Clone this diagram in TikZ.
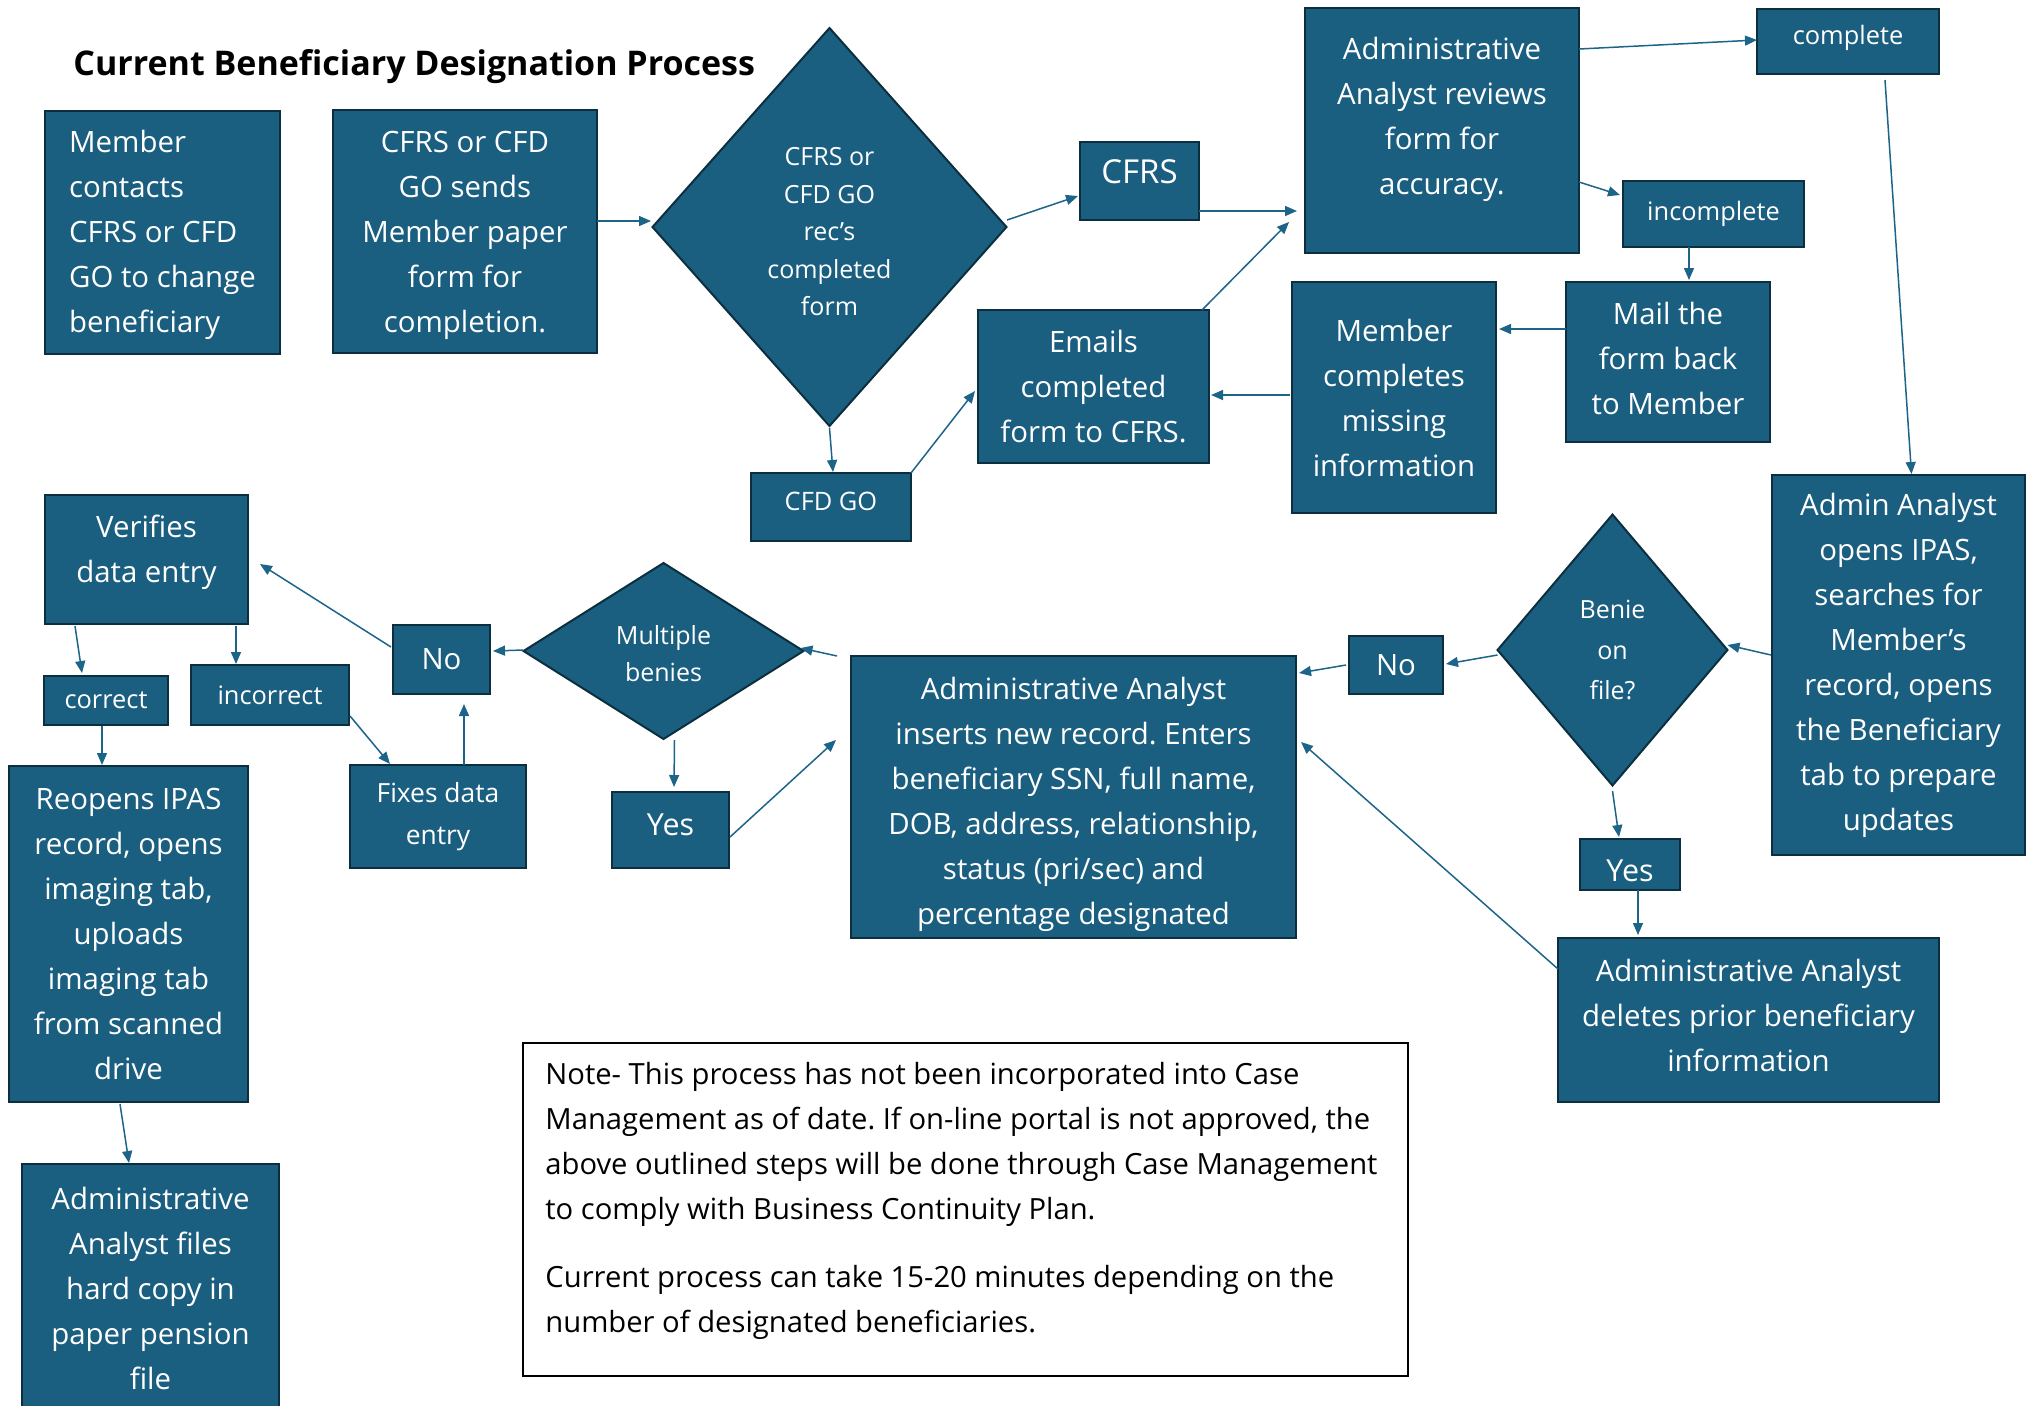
\documentclass[tikz,border=0pt]{standalone}
\usepackage{fontspec}
\setmainfont{Open Sans}
\usetikzlibrary{shapes.geometric,arrows.meta}
\definecolor{boxfill}{HTML}{1A5E80}
\definecolor{boxline}{HTML}{0C2F40}
\definecolor{arrcol}{HTML}{1D6489}
\frenchspacing
\begin{document}
\begin{tikzpicture}[x=0.5pt,y=-0.5pt,
  box/.style={draw=boxline, fill=boxfill, line width=1pt, text=white, align=center,
    inner sep=0pt, outer sep=0pt, anchor=north west, font=\fontsize{14.7}{22.5}\selectfont},
  sbox/.style={box, font=\fontsize{12.7}{18.75}\selectfont},
  ybox/.style={box, font=\fontsize{15.2}{22.5}\selectfont},
  dia/.style={diamond, draw=boxline, fill=boxfill, line width=1pt, text=white, align=center,
    inner sep=0pt, outer sep=0pt, font=\fontsize{12.5}{18.75}\selectfont},
  arr/.style={draw=arrcol, line width=0.75pt, -{Triangle[length=6pt,width=5pt]}},
]
\useasboundingbox (0,0) rectangle (2026,1405);

\node[anchor=west, inner sep=0pt, font=\bfseries\fontsize{17}{20}\selectfont] (title) at (73,67) {Current Beneficiary Designation Process};

% top row
\node[box, minimum width=117.5pt, minimum height=121.5pt, align=left] (member) at (45,111) {\mbox{}\\[-9.4pt]Member\\contacts\\CFRS or CFD\\GO to change\\beneficiary};
\node[box, minimum width=132pt, minimum height=121.5pt] (sends) at (333,110) {\mbox{}\\[-8pt]CFRS or CFD\\GO sends\\Member paper\\form for\\completion.};
\node[dia, minimum width=177pt, minimum height=199pt] (d1) at (829.5,227) {\mbox{}\\[-4.75pt]CFRS or\\CFD GO\\rec’s\\completed\\form};
\node[box, minimum width=59.5pt, minimum height=39pt, font=\fontsize{16.5}{22.5}\selectfont] (cfrs) at (1080,142) {CFRS\\[-13.5pt]\mbox{}};
\node[box, minimum width=137pt, minimum height=122.5pt] (review) at (1305,8) {Administrative\\Analyst reviews\\form for\\accuracy.\\[-8pt]\mbox{}};
\node[sbox, minimum width=91pt, minimum height=32.5pt] (complete) at (1757,9) {complete\\[-12.5pt]\mbox{}};
\node[sbox, minimum width=90.5pt, minimum height=33pt] (incomplete) at (1623,181) {incomplete};
\node[box, minimum width=102pt, minimum height=80pt] (mail) at (1566,282) {Mail the\\form back\\to Member\\[-18.5pt]\mbox{}};
\node[box, minimum width=102pt, minimum height=115.5pt] (memcomp) at (1292,282) {Member\\completes\\missing\\information};
\node[box, minimum width=115.5pt, minimum height=76.5pt] (emails) at (978,310) {Emails\\completed\\form to CFRS.};
\node[sbox, minimum width=80pt, minimum height=34pt] (cfdgo) at (751,473) {CFD GO\\[-13pt]\mbox{}};

% right column
\node[box, minimum width=126.5pt, minimum height=190pt] (opens) at (1772,475) {Admin Analyst\\opens IPAS,\\searches for\\Member’s\\record, opens\\the Beneficiary\\tab to prepare\\updates};
\node[dia, minimum width=115pt, minimum height=135.5pt, font=\fontsize{12.5}{20.25}\selectfont] (benie) at (1612.5,650) {Benie\\on\\file?};
\node[box, minimum width=47pt, minimum height=29pt] (noR) at (1349,636) {No};
\node[ybox, minimum width=50pt, minimum height=25.5pt] (yesR) at (1580,839) {\mbox{}\\[-5.5pt]Yes};
\node[box, minimum width=190.5pt, minimum height=82pt] (deletes) at (1558,938) {Administrative Analyst\\deletes prior beneficiary\\information\\[-17.5pt]\mbox{}};
\node[box, minimum width=222.5pt, minimum height=141pt] (inserts) at (851,656) {\mbox{}\\[-4.3pt]Administrative Analyst\\inserts new record. Enters\\beneficiary SSN, full name,\\DOB, address, relationship,\\status (pri/sec) and\\percentage designated};

% middle / left
\node[dia, minimum width=140pt, minimum height=88pt, font=\fontsize{12.5}{18.5}\selectfont] (multi) at (663.5,651) {\mbox{}\\[-6pt]Multiple\\benies};
\node[box, minimum width=48.5pt, minimum height=34.5pt] (noL) at (393,625) {No};
\node[ybox, minimum width=58.5pt, minimum height=38pt] (yesL) at (612,792) {Yes\\[-17.5pt]\mbox{}};
\node[box, minimum width=101.5pt, minimum height=64.5pt] (verifies) at (45,495) {Verifies\\data entry\\[-12pt]\mbox{}};
\node[sbox, minimum width=62pt, minimum height=24.5pt] (correct) at (44,676) {correct};
\node[sbox, minimum width=79pt, minimum height=30pt] (incorrect) at (191,665) {incorrect};
\node[box, minimum width=88pt, minimum height=51.5pt, font=\fontsize{13.2}{21}\selectfont] (fixes) at (350,765) {Fixes data\\entry};
\node[box, minimum width=119.5pt, minimum height=168pt] (reopens) at (9,766) {Reopens IPAS\\record, opens\\imaging tab,\\uploads\\imaging tab\\from scanned\\drive};
\node[box, minimum width=128.5pt, minimum height=124pt] (files) at (22,1164) {Administrative\\Analyst files\\hard copy in\\paper pension\\file};

% note
\node[draw=black, line width=1pt, fill=white, anchor=north west, inner sep=0pt, outer sep=0pt,
  minimum width=442.5pt, minimum height=166.5pt] (note) at (523,1043) {};
\node[anchor=north west, inner sep=0pt, align=left, font=\fontsize{14.6}{22.5}\selectfont] (notetext) at ([shift={(22,19)}]note.north west)
  {Note- This process has not been incorporated into Case\\Management as of date. If on-line portal is not approved, the\\above outlined steps will be done through Case Management\\to comply with Business Continuity Plan.\\[11.5pt]Current process can take 15-20 minutes depending on the\\number of designated beneficiaries.};

% connectors
\draw[arr] ([shift={(0,-10.5)}]sends.east) -- ([shift={(-1.5,-6)}]d1.west);
\draw[arr] ([shift={(0.5,-7)}]d1.east) -- ([shift={(-2,15)}]cfrs.west);
\draw[arr] ([shift={(0,30)}]cfrs.east) -- ([shift={(-8,80.5)}]review.west);
\draw[arr] ([shift={(0,-81.5)}]review.east) -- ([shift={(0,-1.5)}]complete.west);
\draw[arr] ([shift={(0,51.5)}]review.east) -- ([shift={(-3,-19)}]incomplete.west);
\draw[arr] ([shift={(-24.5,0)}]incomplete.south) -- ([shift={(21,-2)}]mail.north);
\draw[arr] ([shift={(0,-33)}]mail.west) -- ([shift={(3,-68.5)}]memcomp.east);
\draw[arr] ([shift={(-2,-2.5)}]memcomp.west) -- ([shift={(2,8.5)}]emails.east);
\draw[arr] ([shift={(108.5,0)}]emails.north) -- ([shift={(-16,91.5)}]review.west);
\draw[arr] ([shift={(0,2)}]d1.south) -- ([shift={(2,-1)}]cfdgo.north);
\draw[arr] (cfdgo.north east) -- ([shift={(-3,4.5)}]emails.west);
\draw[arr] ([shift={(37,6)}]complete.south) -- ([shift={(13,-1)}]opens.north);
\draw[arr] ([shift={(-1,-10)}]opens.west) -- ([shift={(0,-5)}]benie.east);
\draw[arr] ([shift={(0,5)}]benie.west) -- ([shift={(3,-1)}]noR.east);
\draw[arr] ([shift={(-3,0)}]noR.west) -- ([shift={(3,-124)}]inserts.east);
\draw[arr] ([shift={(0,5.5)}]benie.south) -- ([shift={(-11,-2)}]yesR.north);
\draw[arr] ([shift={(8,0)}]yesR.south) -- ([shift={(-110.5,-3)}]deletes.north);
\draw[arr] ([shift={(0,-51)}]deletes.west) -- ([shift={(5,-55)}]inserts.east);
\draw[arr] ([shift={(-14,0)}]inserts.north west) -- ([shift={(-3,-3)}]multi.east);
\draw[arr] ([shift={(0,-1)}]multi.west) -- ([shift={(3,-8.5)}]noL.east);
\draw[arr] ([shift={(11,1)}]multi.south) -- ([shift={(3.5,-5)}]yesL.north);
\draw[arr] ([shift={(1,7)}]yesL.east) -- ([shift={(-15,-57)}]inserts.west);
\draw[arr] ([shift={(-2,-12.5)}]noL.west) -- ([shift={(12,4.5)}]verifies.east);
\draw[arr] ([shift={(-71.5,2)}]verifies.south) -- ([shift={(-24,-3)}]correct.north);
\draw[arr] ([shift={(89.5,2)}]verifies.south) -- ([shift={(-34,-1)}]incorrect.north);
\draw[arr] ([shift={(1,21)}]incorrect.east) -- ([shift={(-48,-1)}]fixes.north);
\draw[arr] ([shift={(26,0)}]fixes.north) -- ([shift={(22.5,10)}]noL.south);
\draw[arr] ([shift={(-4,1)}]correct.south) -- ([shift={(-26.5,-1)}]reopens.north);
\draw[arr] ([shift={(-8.5,2)}]reopens.south) -- ([shift={(-21.5,-1)}]files.north);
\end{tikzpicture}
\end{document}
